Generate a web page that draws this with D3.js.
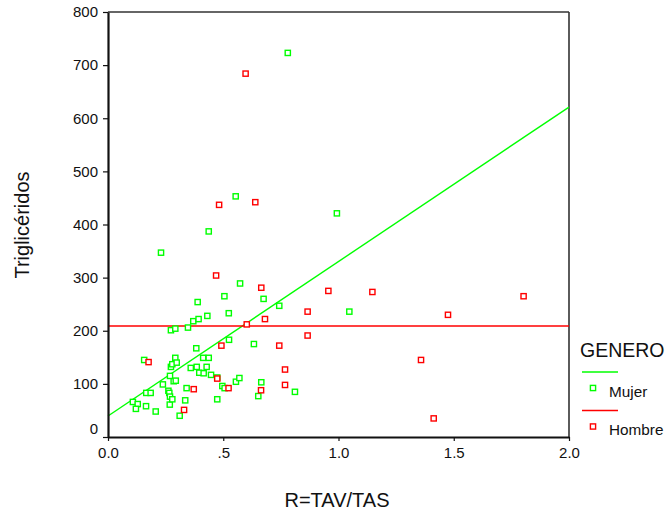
<!DOCTYPE html>
<html>
<head>
<meta charset="utf-8">
<script src="https://cdn.jsdelivr.net/npm/d3@7"></script>
<style>
  html, body { margin: 0; padding: 0; background: #fff; }
  svg { display: block; font-family: "Liberation Sans", Arial, sans-serif; }
</style>
</head>
<body>
<svg id="chart" width="666" height="514"></svg>
<script>
// ---- Data ----
const groups = ["Mujer", "Hombre"];
const groupColors = ["#00ff00", "#ff0000"];

const mujerX = [0.108, 0.129, 0.121, 0.157, 0.165, 0.166, 0.185, 0.207, 0.230, 0.238,
  0.262, 0.266, 0.269, 0.268, 0.269, 0.273, 0.279, 0.273, 0.279, 0.285,
  0.294, 0.292, 0.298, 0.292, 0.311, 0.335, 0.341, 0.347, 0.359, 0.370,
  0.383, 0.385, 0.389, 0.393, 0.396, 0.413, 0.415, 0.428, 0.431, 0.437,
  0.437, 0.447, 0.474, 0.474, 0.496, 0.506, 0.505, 0.524, 0.525, 0.554,
  0.555, 0.570, 0.573, 0.633, 0.652, 0.665, 0.675, 0.743, 0.780, 0.811,
  0.993, 1.047];
const mujerY = [66, 62, 53, 145, 58, 83, 83, 48, 347, 99,
  87, 83, 76, 61, 115, 132, 137, 201, 71, 105,
  106, 149, 140, 204, 40, 69, 92, 206, 130, 218,
  167, 132, 254, 222, 121, 149, 120, 132, 228, 149,
  387, 117, 112, 71, 96, 92, 265, 233, 183, 453,
  104, 111, 289, 175, 77, 103, 260, 247, 723, 85,
  421, 236];

const hombreX = [0.176, 0.330, 0.372, 0.469, 0.474, 0.482, 0.492, 0.523, 0.597, 0.602,
  0.639, 0.665, 0.664, 0.681, 0.743, 0.768, 0.768, 0.866, 0.866, 0.956,
  1.147, 1.358, 1.413, 1.475, 1.803];
const hombreY = [141, 51, 90, 304, 110, 437, 172, 92, 684, 212,
  442, 281, 88, 222, 172, 127, 98, 236, 191, 275,
  273, 145, 35, 230, 265];

// fit lines: intercept, slope (per unit of R)
const fitIntercepts = [39.6, 209];
const fitSlopes = [290.7, 0];

const xTicks = [0, 0.5, 1.0, 1.5, 2.0];
const xTickLabels = ["0.0", ".5", "1.0", "1.5", "2.0"];
const yTicks = [0, 100, 200, 300, 400, 500, 600, 700, 800];

const xTitle = "R=TAV/TAS";
const yTitle = "Triglicéridos";
const legendTitle = "GENERO";

// ---- Layout ----
const svg = d3.select("#chart");
const L = 108, R = 569, T = 12, B = 437;

const x = d3.scaleLinear().domain([0, 2]).range([L, R]);
const y = d3.scaleLinear().domain([0, 800]).range([B, T]);

// frame (top and right)
svg.append("line").attr("x1", L).attr("x2", R).attr("y1", T).attr("y2", T)
  .attr("stroke", "#333").attr("stroke-width", 1.3);
svg.append("line").attr("x1", R).attr("x2", R).attr("y1", T).attr("y2", B)
  .attr("stroke", "#333").attr("stroke-width", 1.6);

// fit lines (behind points)
const fitG = svg.append("g");
groups.forEach((g, i) => {
  fitG.append("line")
    .attr("x1", x(0)).attr("x2", x(2))
    .attr("y1", y(fitIntercepts[i]))
    .attr("y2", y(fitIntercepts[i] + fitSlopes[i] * 2))
    .attr("stroke", groupColors[i]).attr("stroke-width", 1.4);
});

// points
const sets = [
  mujerX.map((v, k) => ({ x: v, y: mujerY[k] })),
  hombreX.map((v, k) => ({ x: v, y: hombreY[k] }))
];
const S = 5.2;
sets.forEach((pts, i) => {
  svg.append("g").selectAll("rect").data(pts).enter().append("rect")
    .attr("x", d => x(d.x) - S / 2)
    .attr("y", d => y(d.y) - S / 2)
    .attr("width", S).attr("height", S)
    .attr("fill", "#fff")
    .attr("stroke", groupColors[i]).attr("stroke-width", 1.4);
});

// axes
const xAxis = d3.axisBottom(x).tickValues(xTicks)
  .tickFormat((d, i) => xTickLabels[i]).tickSizeInner(4).tickSizeOuter(0).tickPadding(6);
const gx = svg.append("g").attr("transform", `translate(0,${B})`).call(xAxis);
gx.select(".domain").attr("stroke", "#111").attr("stroke-width", 2);
gx.selectAll(".tick line").attr("stroke", "#111").attr("stroke-width", 1.2);
gx.selectAll(".tick text").attr("font-size", 15).attr("fill", "#111")
  .attr("font-family", "Liberation Sans, Arial, sans-serif");

const yAxis = d3.axisLeft(y).tickValues(yTicks).tickSizeInner(5).tickSizeOuter(0).tickPadding(5);
const gy = svg.append("g").attr("transform", `translate(${L},0)`).call(yAxis);
gy.select(".domain").attr("stroke", "#111").attr("stroke-width", 2.2);
gy.selectAll(".tick line").attr("stroke", "#111").attr("stroke-width", 1.2);
gy.selectAll(".tick text").attr("font-size", 15).attr("fill", "#111")
  .attr("font-family", "Liberation Sans, Arial, sans-serif")
  .attr("dy", d => d === 0 ? "-0.22em" : "0.32em");

// axis titles
svg.append("text").attr("x", 337).attr("y", 507).attr("text-anchor", "middle")
  .attr("font-size", 20).attr("fill", "#111").text(xTitle);
svg.append("text").attr("transform", "translate(29,225) rotate(-90)")
  .attr("text-anchor", "middle").attr("font-size", 20).attr("fill", "#111").text(yTitle);

// legend
const lg = svg.append("g");
lg.append("text").attr("x", 580).attr("y", 357).attr("font-size", 19.5)
  .attr("fill", "#111").text(legendTitle);
groups.forEach((g, i) => {
  const base = 372 + i * 38.5;
  lg.append("line").attr("x1", 582).attr("x2", 618).attr("y1", base).attr("y2", base)
    .attr("stroke", groupColors[i]).attr("stroke-width", 1.4);
  lg.append("rect").attr("x", 593 - S / 2).attr("y", base + 16 - S / 2)
    .attr("width", S).attr("height", S).attr("fill", "#fff")
    .attr("stroke", groupColors[i]).attr("stroke-width", 1.4);
  lg.append("text").attr("x", 609).attr("y", base + 24.5).attr("font-size", 15.3)
    .attr("fill", "#111").text(g);
});
</script>
</body>
</html>
